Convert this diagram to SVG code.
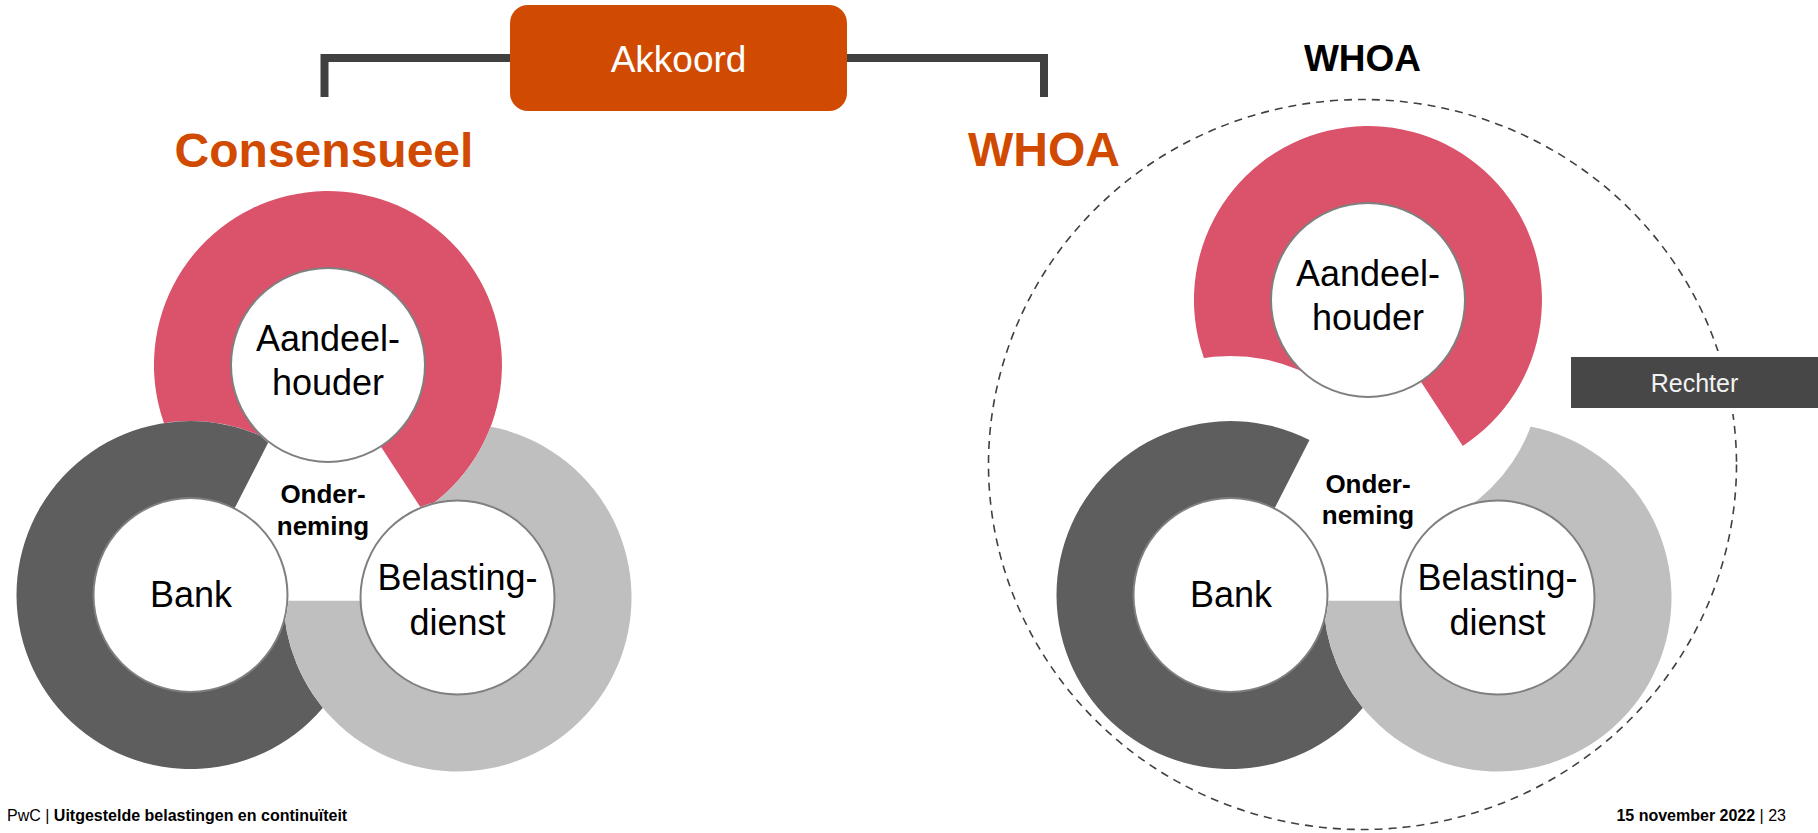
<svg xmlns="http://www.w3.org/2000/svg" xmlns:xlink="http://www.w3.org/1999/xlink" width="1818" height="833" viewBox="0 0 1818 833">
<style>
text{font-family:"Liberation Sans",Arial,Helvetica,sans-serif}
.lbl{font-size:36px;fill:#000;text-anchor:middle}
.ond{font-size:26px;font-weight:bold;fill:#000;text-anchor:middle}
.inner{fill:#fff;stroke:#7f7f7f;stroke-width:2}
.pink{fill:#DB536A}
.dark{fill:#5E5E5E}
.light{fill:#BFBFBF}
.title{font-size:48px;font-weight:bold;fill:#D04A02;text-anchor:middle}
.foot{font-size:16px;fill:#000}
</style>
<defs>
<path id="ringP" d="M -89.6 149.2 A 174 174 0 1 1 94.8 145.9 L 52.8 81.4 A 97 97 0 1 0 -50.0 83.1 Z"/>
<path id="ringB" d="M 174 1.2 A 174 174 0 1 1 79.0 -155.0 L 44.0 -86.4 A 97 97 0 1 0 97 0.7 Z"/>
<path id="ringT" d="M -84.9 -151.9 A 174 174 0 1 1 -173.97 3.2 L -96.95 3.2 A 97 97 0 1 0 -47.3 -84.7 Z"/>
<mask id="mPL" maskUnits="userSpaceOnUse" x="0" y="0" width="1818" height="833"><rect width="1818" height="833" fill="#fff"/><circle cx="190.5" cy="595" r="174"/><circle cx="457.5" cy="597.5" r="98"/></mask>
<mask id="mBL" maskUnits="userSpaceOnUse" x="0" y="0" width="1818" height="833"><rect width="1818" height="833" fill="#fff"/><circle cx="457.5" cy="597.5" r="174"/><circle cx="328" cy="365" r="98"/></mask>
<mask id="mTL" maskUnits="userSpaceOnUse" x="0" y="0" width="1818" height="833"><rect width="1818" height="833" fill="#fff"/><circle cx="328" cy="365" r="174"/><circle cx="190.5" cy="595" r="98"/></mask>
<mask id="mPR" maskUnits="userSpaceOnUse" x="0" y="0" width="1818" height="833"><rect width="1818" height="833" fill="#fff"/><circle cx="1230.5" cy="530" r="174"/><circle cx="1497.5" cy="597.5" r="98"/></mask>
<mask id="mBR" maskUnits="userSpaceOnUse" x="0" y="0" width="1818" height="833"><rect width="1818" height="833" fill="#fff"/><circle cx="1497.5" cy="597.5" r="174"/><circle cx="1368" cy="300" r="98"/></mask>
<mask id="mTR" maskUnits="userSpaceOnUse" x="0" y="0" width="1818" height="833"><rect width="1818" height="833" fill="#fff"/><circle cx="1368" cy="365" r="174"/><circle cx="1230.5" cy="595" r="98"/></mask>
</defs>
<rect width="1818" height="833" fill="#fff"/>

<g id="connectors" fill="none" stroke="#404040" stroke-width="8" stroke-linejoin="miter">
<polyline points="324.5,97 324.5,58 512,58"/>
<polyline points="845,58 1044,58 1044,97"/>
</g>

<g id="akkoord">
<rect x="510" y="5" width="337" height="106" rx="18" fill="#D04A02"/>
<text x="678.5" y="72" font-size="37" fill="#fff" text-anchor="middle">Akkoord</text>
</g>

<g id="title-consensueel"><text class="title" x="324" y="167">Consensueel</text></g>
<g id="title-whoa"><text class="title" x="1044" y="166">WHOA</text></g>
<g id="label-whoa"><text x="1362.5" y="71" font-size="37" font-weight="bold" fill="#000" text-anchor="middle">WHOA</text></g>

<g id="whoa-boundary">
<ellipse cx="1362.5" cy="464.5" rx="374" ry="365" fill="none" stroke="#404040" stroke-width="1.6" stroke-dasharray="8 6"/>
</g>

<g id="left-aandeelhouder">
<g mask="url(#mPL)"><use xlink:href="#ringP" class="pink" transform="translate(328 365)"/></g>
<circle class="inner" cx="328" cy="365" r="97"/>
<text class="lbl" x="328" y="351">Aandeel-</text>
<text class="lbl" x="328" y="395">houder</text>
</g>
<g id="left-bank">
<g mask="url(#mBL)"><use xlink:href="#ringB" class="dark" transform="translate(190.5 595)"/></g>
<circle class="inner" cx="190.5" cy="595" r="97"/>
<text class="lbl" x="191" y="607">Bank</text>
</g>
<g id="left-belastingdienst">
<g mask="url(#mTL)"><use xlink:href="#ringT" class="light" transform="translate(457.5 597.5)"/></g>
<circle class="inner" cx="457.5" cy="597.5" r="97"/>
<text class="lbl" x="457.5" y="590">Belasting-</text>
<text class="lbl" x="457.5" y="635">dienst</text>
</g>
<g id="left-onderneming">
<text class="ond" x="323" y="503">Onder-</text>
<text class="ond" x="323" y="535">neming</text>
</g>

<g id="right-aandeelhouder">
<g mask="url(#mPR)"><use xlink:href="#ringP" class="pink" transform="translate(1368 300)"/></g>
<circle class="inner" cx="1368" cy="300" r="97"/>
<text class="lbl" x="1368" y="286">Aandeel-</text>
<text class="lbl" x="1368" y="330">houder</text>
</g>
<g id="right-bank">
<g mask="url(#mBR)"><use xlink:href="#ringB" class="dark" transform="translate(1230.5 595)"/></g>
<circle class="inner" cx="1230.5" cy="595" r="97"/>
<text class="lbl" x="1231" y="607">Bank</text>
</g>
<g id="right-belastingdienst">
<g mask="url(#mTR)"><use xlink:href="#ringT" class="light" transform="translate(1497.5 597.5)"/></g>
<circle class="inner" cx="1497.5" cy="597.5" r="97"/>
<text class="lbl" x="1497.5" y="590">Belasting-</text>
<text class="lbl" x="1497.5" y="635">dienst</text>
</g>
<g id="right-onderneming">
<text class="ond" x="1368" y="493">Onder-</text>
<text class="ond" x="1368" y="524">neming</text>
</g>

<g id="rechter">
<rect x="1571" y="357" width="252" height="51" fill="#474747" stroke="#fff" stroke-width="12" paint-order="stroke"/>
<text x="1694.5" y="392" font-size="25" fill="#f2f2f2" text-anchor="middle">Rechter</text>
</g>

<g id="footer">
<text class="foot" x="7" y="821">PwC | <tspan font-weight="bold">Uitgestelde belastingen en continuïteit</tspan></text>
<text class="foot" x="1786" y="821" text-anchor="end"><tspan font-weight="bold">15 november 2022</tspan> | 23</text>
</g>
</svg>
